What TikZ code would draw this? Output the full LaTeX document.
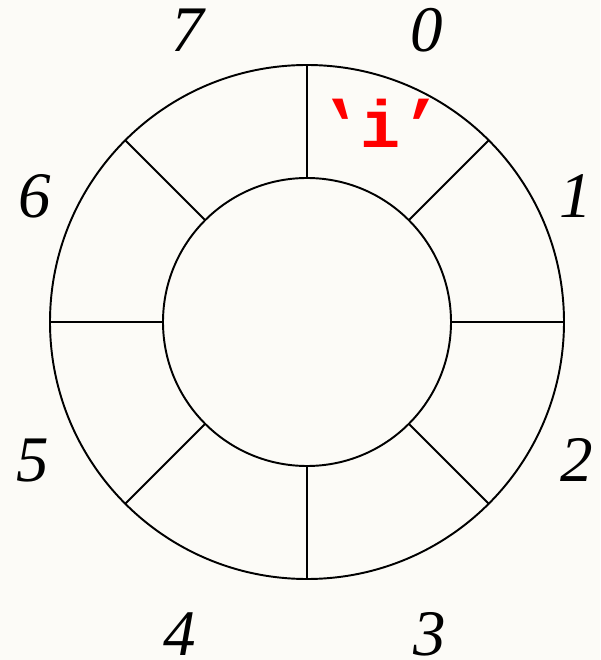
\documentclass[tikz,border=0pt]{standalone}
\usepackage{fontspec}
\setmainfont{Liberation Serif}
\newfontfamily\codefont{Liberation Mono}
\usetikzlibrary{positioning,calc}
\definecolor{PaperBg}{RGB}{252,251,247}
\definecolor{CharRed}{RGB}{255,0,0}
\newcommand{\opentick}{\reflectbox{\char"2019}}
\tikzset{
  ring/.style={draw=black,line width=1.1pt},
  spoke/.style={draw=black,line width=1.1pt},
  slotnum/.style={anchor=base,inner sep=0pt,font=\fontsize{37}{40}\selectfont\itshape},
  slotchar/.style={anchor=base,inner sep=0pt,text=CharRed,font=\fontsize{38}{40}\selectfont\codefont\bfseries}
}

\begin{document}
\begin{tikzpicture}[x=0.02cm,y=0.02cm]
  \fill[PaperBg] (0,0) rectangle (600,660);
  \useasboundingbox (0,0) rectangle (600,660);
  \coordinate (hub) at (307,338);
  % rings
  \draw[ring] (hub) circle[radius=257];
  \draw[ring] (hub) circle[radius=144];
  % slot borders
  \foreach \a in {0,45,...,315}
    \draw[spoke] ($(hub)+(\a:144)$) -- ($(hub)+(\a:257)$);
  % slot numbers
  \foreach \n/\x/\y in {0/427/608,1/576/442,2/577/178,3/430/5,4/180/5,5/33/178,6/35/442,7/188/608}
    \node[slotnum] (num\n) at (\x,\y) {\n};
  % stored character
  \node[slotchar] (ch0) at (381,512) {\opentick i\char"2019};
\end{tikzpicture}
\end{document}
